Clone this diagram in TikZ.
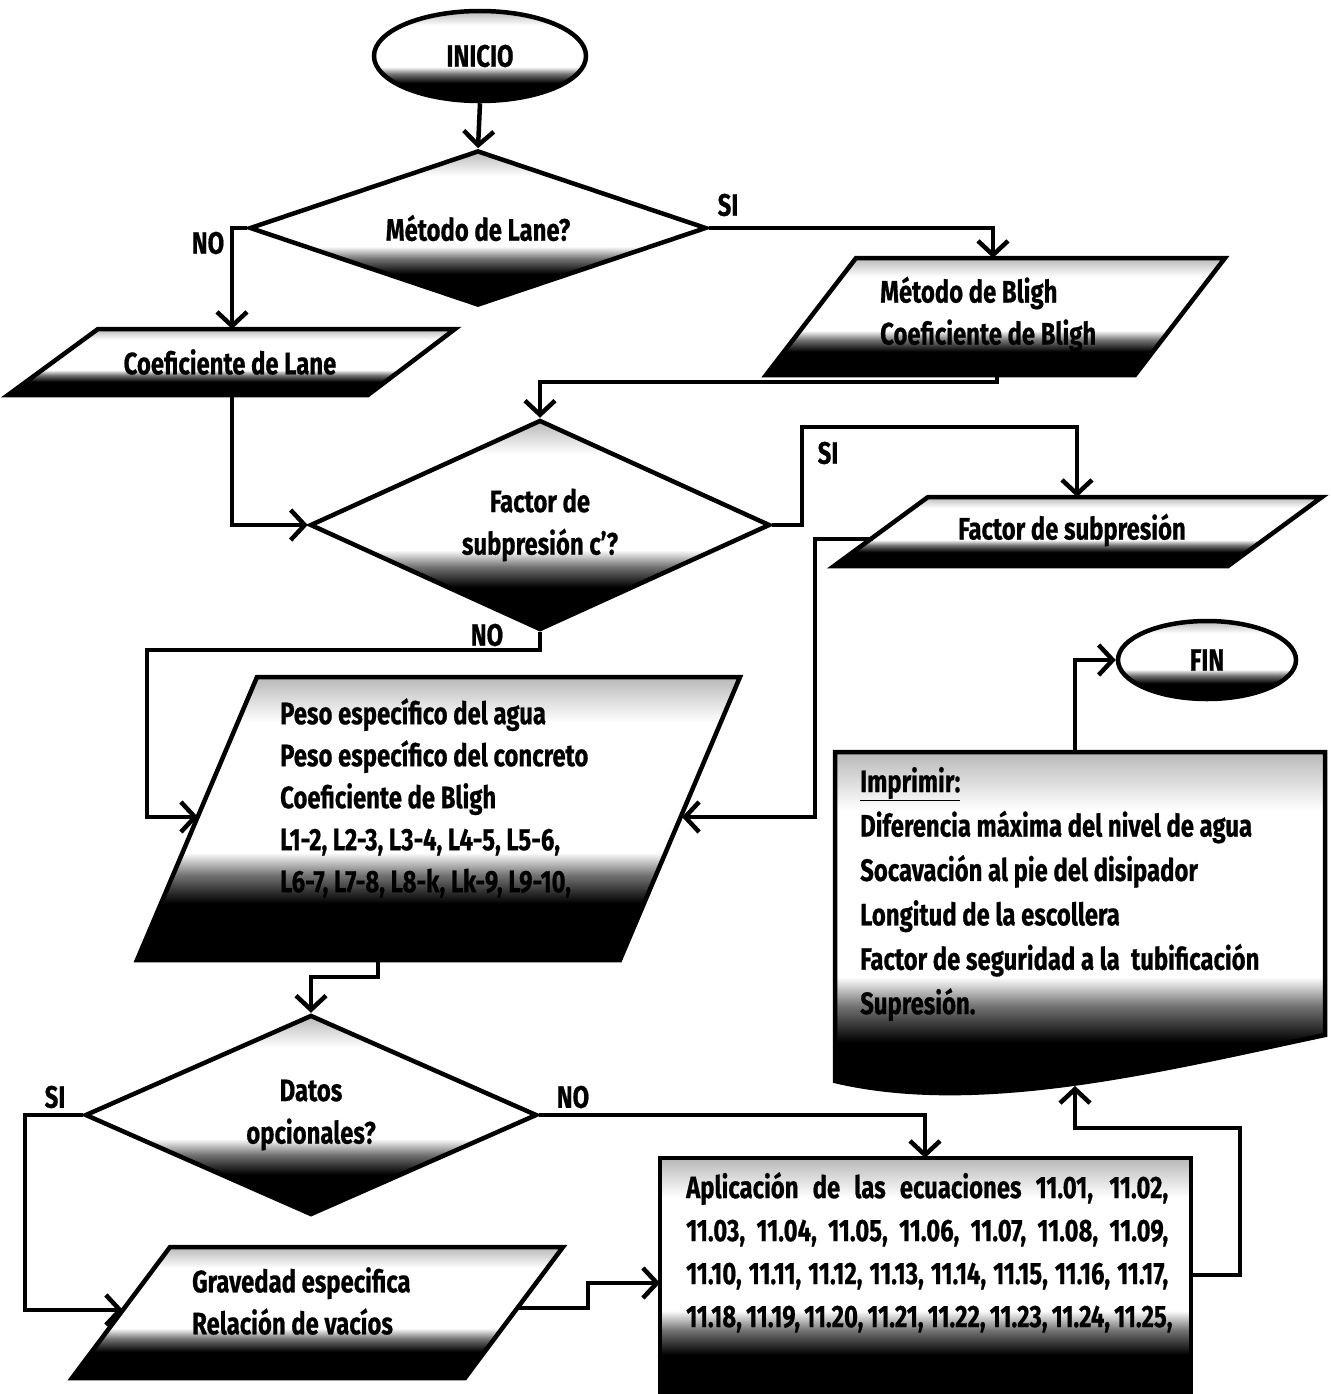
\documentclass[tikz,border=0pt]{standalone}
\usepackage{fontspec}
\setmainfont{Fira Sans}[FakeStretch=0.77, BoldFeatures={FakeBold=0.6}]
\usetikzlibrary{shapes.geometric,arrows.meta}
% light top, white body, dark band fading into a black base
\pgfdeclareverticalshading{flowshade}{100bp}{%
  color(0bp)=(black); color(25bp)=(black); color(35bp)=(black);
  color(40bp)=(black!55); color(44bp)=(white); color(67bp)=(white);
  color(75bp)=(black!28); color(100bp)=(black!28)}
\begin{document}
\begin{tikzpicture}[x=1pt,y=-1pt,
  every node/.style={font=\fontsize{31}{42.5}\selectfont\bfseries},
  fbox/.style={draw=black, line width=4.5pt, line join=miter, shading=flowshade},
  decision/.style={fbox, diamond, aspect=2.5, inner sep=0pt, align=center},
  terminal/.style={fbox, ellipse, inner sep=0pt},
  txt/.style={inner sep=0pt, align=left},
  lbl/.style={inner sep=0pt},
  link/.style={line width=4.5pt, -{Straight Barb[length=14pt,width=30pt]}}]
\fill[white] (0,0) rectangle (1330,1394);
\useasboundingbox (0,0) rectangle (1330,1394);

% ---------- start and first decision ----------
\node[terminal, minimum width=212pt, minimum height=90pt] (inicio) at (480,56) {INICIO};
\node[decision, minimum width=457pt, minimum height=155pt] (lane) at (478,228) {Método de Lane?};
\draw[link] (inicio.south) -- (lane.north);

% Lane coefficient (input)
\draw[fbox] (98,329) -- (455,329) -- (368,395) -- (8,395) -- cycle;
\node[txt] (coeflane) at (230,362) {Coeficiente de Lane};
\coordinate (cl-in) at (232,329);
\coordinate (cl-out) at (232,395);

% Bligh method (input)
\draw[fbox] (856,258) -- (1225,258) -- (1135,375) -- (766,375) -- cycle;
\node[txt, anchor=west, font=\fontsize{31}{42}\selectfont\bfseries] (bligh) at (880,314) {Método de Bligh\\Coeficiente de Bligh};
\coordinate (bl-in) at (993,258);
\coordinate (bl-out) at (997,375);
\coordinate (bl-bend) at (997,382);

\draw[link] (lane.west) -| (cl-in);
\node[lbl] (no1) at (208,243) {NO};
\draw[link] (lane.east) -| (bl-in);
\node[lbl] (si1) at (728,205) {SI};

% ---------- uplift factor decision ----------
\node[decision, minimum width=460pt, minimum height=210pt] (subp) at (540,525) {Factor de\\subpresión c'?};
\draw[link] (cl-out) |- (subp.west);
\draw[link] (bl-out) -- (bl-bend) -| (subp.north);

% uplift factor (input)
\draw[fbox] (928,497) -- (1322,497) -- (1228,566) -- (834,566) -- cycle;
\node[txt] (fsub) at (1072,530) {Factor de subpresión};
\coordinate (fs-in) at (1077,497);
\coordinate (fs-out) at (873,539);
\coordinate (fs-bend) at (815,539);
\coordinate (si2-bend) at (802,427);
\draw[link] (subp.east) -| (si2-bend) -| (fs-in);
\node[lbl] (si2) at (828,453) {SI};

% ---------- main data (input) ----------
\draw[fbox] (257,677) -- (740,677) -- (620,960) -- (137,960) -- cycle;
\node[txt, anchor=west, font=\fontsize{31}{42}\selectfont\bfseries] (peso) at (280,798)
  {Peso específico del agua\\Peso específico del concreto\\Coeficiente de Bligh\\L1-2, L2-3, L3-4, L4-5, L5-6,\\L6-7, L7-8, L8-k, Lk-9, L9-10,};
\coordinate (peso-inL) at (198,817);
\coordinate (peso-inR) at (682,817);
\coordinate (peso-out) at (378,960);
\coordinate (peso-bend) at (378,977);
\coordinate (no2-bend) at (147,650);
\draw[link] (subp.south) |- (no2-bend) |- (peso-inL);
\node[lbl] (no2) at (487,635) {NO};
\draw[link] (fs-out) -- (fs-bend) |- (peso-inR);

% ---------- optional data decision ----------
\node[decision, minimum width=452pt, minimum height=200pt] (opt) at (311,1115) {Datos\\opcionales?};
\draw[link] (peso-out) -- (peso-bend) -| (opt.north);

% optional data (input)
\draw[fbox] (170,1247) -- (563,1247) -- (465,1378) -- (72,1378) -- cycle;
\node[txt, anchor=west, font=\fontsize{31}{42}\selectfont\bfseries] (grav) at (192,1301) {Gravedad especifica\\Relación de vacíos};
\coordinate (gr-in) at (123,1310);
\coordinate (gr-out) at (517,1308);
\coordinate (gr-bend) at (588,1308);
\coordinate (si3-bend) at (25,1115);
\draw[link] (opt.west) -- (si3-bend) |- (gr-in);
\node[lbl] (si3) at (55,1097) {SI};

% ---------- computation (process) ----------
\draw[fbox] (660,1158) rectangle (1191,1404);
\node[txt, anchor=north west, font=\fontsize{31}{43}\selectfont\bfseries] (apl) at (686,1172)
  {\makebox[482pt][s]{Aplicación de las ecuaciones 11.01, 11.02,}\\
   \makebox[482pt][s]{11.03, 11.04, 11.05, 11.06, 11.07, 11.08, 11.09,}\\
   \makebox[482pt][s]{11.10, 11.11, 11.12, 11.13, 11.14, 11.15, 11.16, 11.17,}\\
   \makebox[482pt][s]{11.18, 11.19, 11.20, 11.21, 11.22, 11.23, 11.24, 11.25,}};
\coordinate (ap-top) at (925,1158);
\coordinate (ap-inL) at (660,1283);
\coordinate (ap-out) at (1191,1275);
\coordinate (ap-bend) at (1240,1128);
\draw[link] (opt.east) -| (ap-top);
\node[lbl] (no3) at (573,1097) {NO};
\draw[link] (gr-out) -- (gr-bend) |- (ap-inL);

% ---------- results (document) ----------
\draw[fbox] (835,752) -- (1325,752) -- (1325,1035) .. controls (1160,1070) and (980,1115) .. (835,1081) -- cycle;
\node[txt, anchor=west, font=\fontsize{31}{44.4}\selectfont\bfseries] (impr) at (860,894)
  {\underline{Imprimir:}\\Diferencia máxima del nivel de agua\\Socavación al pie del disipador\\Longitud de la escollera\\Factor de seguridad a la\ \ tubificación\\Supresión.};
\coordinate (imp-in) at (1075,1086);
\coordinate (imp-out) at (1075,752);
\draw[link] (ap-out) -| (ap-bend) -| (imp-in);

% ---------- end ----------
\node[terminal, minimum width=178pt, minimum height=78pt] (fin) at (1207,660) {FIN};
\draw[link] (imp-out) |- (fin.west);
\end{tikzpicture}
\end{document}
